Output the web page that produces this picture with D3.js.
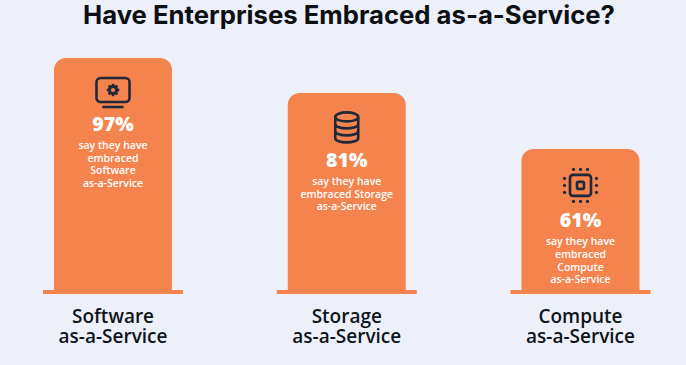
<!DOCTYPE html>
<html>
<head>
<meta charset="utf-8">
<script src="https://cdnjs.cloudflare.com/ajax/libs/d3/7.8.5/d3.min.js"></script>
<style>
  html, body { margin: 0; padding: 0; background: #edf0f9; }
  text { font-family: "Open Sans", sans-serif; }
</style>
</head>
<body>
<svg id="chart" width="686" height="365"></svg>
<script>
var chartTitle = "Have Enterprises Embraced as-a-Service?";
var categories = ["Software", "Storage", "Compute"];
var categoryLabels = [["Software", "as-a-Service"], ["Storage", "as-a-Service"], ["Compute", "as-a-Service"]];
// what the labels say
var percentLabels = ["97%", "81%", "61%"];
// bar heights as drawn, they are not quite in proportion with the labels
var barLevels = [97, 82.4, 59];
var captions = [
  ["say they have", "embraced", "Software", "as-a-Service"],
  ["say they have", "embraced Storage", "as-a-Service"],
  ["say they have", "embraced", "Compute", "as-a-Service"],
];
var iconNames = ["monitor", "database", "chip"];

var orange = "#f5834d";
var dark = "#1e2a3a";
var baseY = 290;
var barWidth = 118;
var baseWidth = 140;
var radius = 12;
// content in the short bar sits a little lower
var iconShift = [0, 0, 2.5];
var textShift = [0, 1, 5.5];

var svg = d3.select("#chart");
var x = d3.scalePoint().domain(categories).range([113, 580.5]);
var y = d3.scaleLinear().domain([0, 97]).range([baseY, 58]);

svg
  .append("text")
  .attr("x", 349)
  .attr("y", 24)
  .attr("text-anchor", "middle")
  .style("font-family", "Inter, sans-serif")
  .style("font-size", "25.7px")
  .style("font-weight", 700)
  .attr("fill", "#0c0f14")
  .text(chartTitle);

var barPath = (level) => {
  let p = d3.path();
  let top = y(level);
  let w = barWidth / 2;
  p.moveTo(-w, baseY);
  p.lineTo(-w, top + radius);
  p.arcTo(-w, top, -w + radius, top, radius);
  p.lineTo(w - radius, top);
  p.arcTo(w, top, w, top + radius, radius);
  p.lineTo(w, baseY);
  p.closePath();
  return p.toString();
};

var drawIcon = (g, name) => {
  let stroke = { fill: "none", stroke: dark, "stroke-width": 2.6 };
  let styled = (sel) => {
    Object.entries(stroke).forEach(([k, v]) => sel.attr(k, v));
    return sel;
  };
  if (name === "monitor") {
    styled(g.append("rect")).attr("x", -16.5).attr("y", -14).attr("width", 33).attr("height", 24).attr("rx", 4);
    g.append("line").attr("x1", -9.5).attr("x2", 9.5).attr("y1", 15).attr("y2", 15)
      .attr("stroke", dark).attr("stroke-width", 2.6).attr("stroke-linecap", "round");
    // gear
    g.append("circle").attr("cy", -2).attr("r", 3.6).attr("fill", "none").attr("stroke", dark).attr("stroke-width", 3);
    d3.range(8).forEach((i) => {
      g.append("rect").attr("x", -1.3).attr("y", -8.2).attr("width", 2.6).attr("height", 2.6).attr("fill", dark)
        .attr("transform", "rotate(" + i * 45 + " 0 -2)");
    });
  } else if (name === "database") {
    let rx = 11.5, ry = 4.5;
    styled(g.append("ellipse")).attr("cy", -10).attr("rx", rx).attr("ry", ry);
    styled(g.append("path")).attr(
      "d",
      "M" + -rx + " -10V11C" + -rx + " 17 " + rx + " 17 " + rx + " 11V-10" +
        "M" + -rx + " -3C" + -rx + " 3 " + rx + " 3 " + rx + " -3" +
        "M" + -rx + " 4C" + -rx + " 10 " + rx + " 10 " + rx + " 4"
    );
  } else {
    styled(g.append("rect")).attr("x", -10.5).attr("y", -10.5).attr("width", 21).attr("height", 21).attr("rx", 3);
    styled(g.append("rect")).attr("x", -3.5).attr("y", -3.5).attr("width", 7).attr("height", 7).attr("rx", 1.5);
    [-7, 0, 7].forEach((d) => {
      [-16, 16].forEach((e) => {
        g.append("circle").attr("cx", d).attr("cy", e).attr("r", 1.6).attr("fill", dark);
        g.append("circle").attr("cx", e).attr("cy", d).attr("r", 1.6).attr("fill", dark);
      });
    });
  }
};

var columns = svg
  .selectAll("g.column")
  .data(categories)
  .join("g")
  .attr("class", "column")
  .attr("transform", (d) => "translate(" + x(d) + ",0)");

columns.append("path").attr("d", (d, i) => barPath(barLevels[i])).attr("fill", orange);

columns
  .append("rect")
  .attr("x", -baseWidth / 2)
  .attr("y", baseY)
  .attr("width", baseWidth)
  .attr("height", 4)
  .attr("fill", orange);

columns.each(function (d, i) {
  let col = d3.select(this);
  let top = y(barLevels[i]);

  let icon = col.append("g").attr("transform", "translate(0," + (top + 34 + iconShift[i]) + ")");
  drawIcon(icon, iconNames[i]);

  col
    .append("text")
    .attr("y", top + 73 + textShift[i])
    .attr("text-anchor", "middle")
    .attr("fill", "#fff")
    .style("font-size", "19.5px")
    .style("font-weight", 800)
    .text(percentLabels[i]);

  col
    .selectAll("text.caption")
    .data(captions[i])
    .join("text")
    .attr("class", "caption")
    .attr("y", (t, k) => top + 91 + textShift[i] + k * 12.6)
    .attr("text-anchor", "middle")
    .attr("fill", "#fff")
    .style("font-size", "10.5px")
    .style("font-weight", 600)
    .text((t) => t);

  // one text element with two lines
  col
    .append("text")
    .attr("class", "label")
    .attr("text-anchor", "middle")
    .attr("fill", "#10151c")
    .style("font-size", "19px")
    .style("font-weight", 600)
    .selectAll("tspan")
    .data(categoryLabels[i])
    .join("tspan")
    .attr("x", 0)
    .attr("y", (t, k) => 323 + k * 19.5)
    .text((t) => t);
});
</script>
</body>
</html>
